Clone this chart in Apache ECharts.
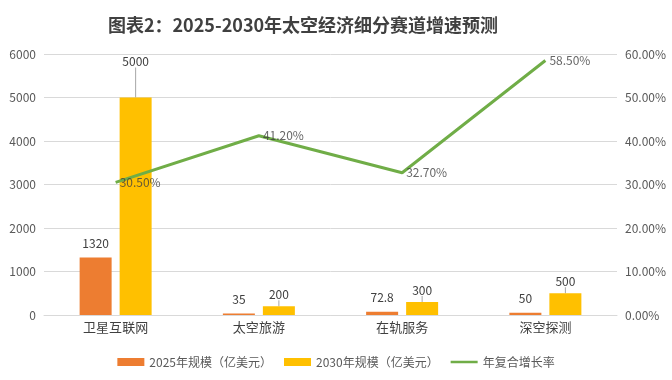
<!DOCTYPE html>
<html><head><meta charset="utf-8">
<script src="https://cdn.jsdelivr.net/npm/echarts@6/dist/echarts.min.js"></script>
<style>html,body{margin:0;padding:0;background:#fff}#c{width:672px;height:380px}</style>
</head><body><div id="c"></div>
<script>
var titleText = '图表2：2025-2030年太空经济细分赛道增速预测';
var categories = ['卫星互联网', '太空旅游', '在轨服务', '深空探测'];
var size2025 = [1320, 35, 72.8, 50];
var size2030 = [5000, 200, 300, 500];
var cagr = [30.5, 41.2, 32.7, 58.5];
var seriesNames = ['2025年规模（亿美元）', '2030年规模（亿美元）', '年复合增长率'];

var FONT = '"Noto Sans CJK SC", "Noto Sans", sans-serif';
var chart = echarts.init(document.getElementById('c'));
chart.setOption({
  backgroundColor: '#fff',
  animation: false,
  textStyle: {fontFamily: FONT},
  title: {
    text: titleText, left: 298, textAlign: 'center', top: 11,
    textStyle: {fontSize: 18, fontWeight: 'bold', color: '#404040', fontFamily: FONT}
  },
  legend: {
    left: 'center', top: 351, itemWidth: 27, itemHeight: 8, itemGap: 12,
    textStyle: {fontSize: 12, color: '#595959', fontFamily: FONT},
    data: [
      {name: seriesNames[0], icon: 'rect'},
      {name: seriesNames[1], icon: 'rect'},
      {name: seriesNames[2], icon: 'path://M0,0 L0,0.01 M0,2.7 L27,2.7 L27,5.3 L0,5.3 Z M27,8 L27,7.99'}
    ]
  },
  grid: {left: 44, right: 55, top: 54, bottom: 65, containLabel: false},
  xAxis: {
    type: 'category', data: categories,
    axisLine: {lineStyle: {color: '#d9d9d9'}},
    axisTick: {show: false},
    axisLabel: {fontSize: 13, color: '#404040', margin: 6, fontFamily: FONT}
  },
  yAxis: [
    {type: 'value', min: 0, max: 6000, interval: 1000,
     axisLine: {show: false}, axisTick: {show: false},
     splitLine: {lineStyle: {color: '#d9d9d9'}},
     axisLabel: {fontSize: 12, color: '#595959', margin: 8,
       formatter: function (v) { return String(v); }}},
    {type: 'value', min: 0, max: 60, interval: 10,
     axisLine: {show: false}, axisTick: {show: false},
     splitLine: {show: false},
     axisLabel: {fontSize: 12, color: '#595959', margin: 8,
       formatter: function (v) { return v.toFixed(2) + '%'; }}}
  ],
  series: [
    {name: seriesNames[0], type: 'bar', data: size2025, barWidth: 32, barGap: '25%',
     itemStyle: {color: '#ed7d31'},
     label: {show: true, position: 'top', distance: 8, fontSize: 12, color: '#404040'}},
    {name: seriesNames[1], type: 'bar', data: size2030, barWidth: 32,
     itemStyle: {color: '#ffc000'},
     label: {show: true, position: 'top', distance: 6, fontSize: 12, color: '#404040'},
     labelLine: {show: true, lineStyle: {color: '#a6a6a6', width: 1}},
     labelLayout: function (p) { return p.dataIndex === 0 ? {dy: -24} : {}; }},
    {name: seriesNames[2], type: 'line', yAxisIndex: 1, data: cagr,
     symbol: 'none', lineStyle: {color: '#70ad47', width: 3}, itemStyle: {color: '#70ad47'}},
    {name: 'cagrLabels', type: 'scatter', yAxisIndex: 1, data: cagr,
     symbolSize: 0, silent: true, z: 5,
     label: {show: true, position: 'right', distance: 4, fontSize: 12, color: '#404040',
       formatter: function (p) { return p.value.toFixed(2) + '%'; }}}
  ]
});
</script></body></html>
